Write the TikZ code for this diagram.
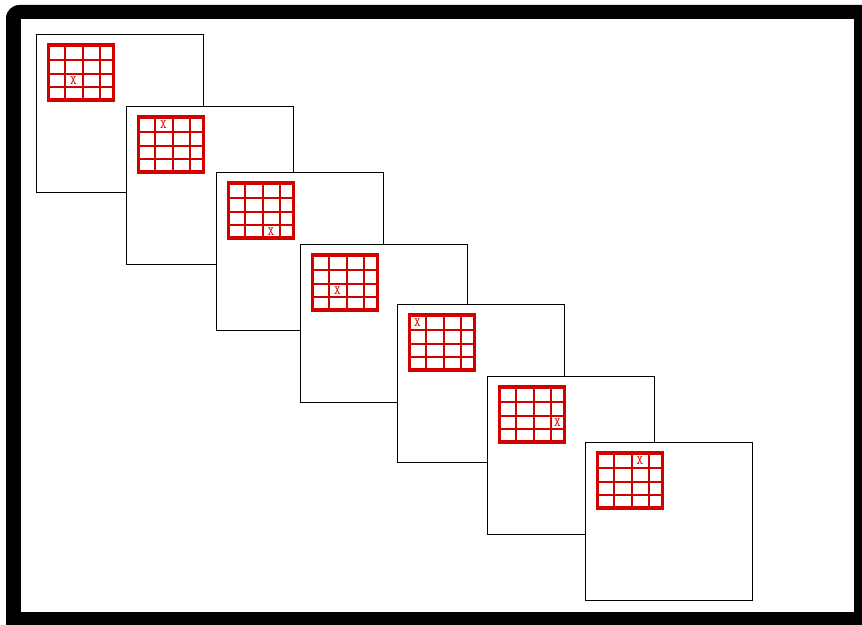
\documentclass[tikz,border=0pt]{standalone}
\definecolor{gridred}{RGB}{212,0,0}
\tikzset{
  panel/.style={draw=black, line width=1.05pt, fill=white, anchor=north west, inner sep=0pt,
    minimum width=125.25pt, minimum height=118.5pt},
  gridouter/.style={draw=gridred, line width=2.3pt},
  gridinner/.style={draw=gridred, line width=1.5pt},
  mark x/.style={text=gridred, font=\fontsize{9.5}{9.5}\selectfont\ttfamily, inner sep=0pt}
}
\begin{document}
\begin{tikzpicture}[x=0.75pt, y=-0.75pt]
\useasboundingbox (0,0) rectangle (862,624);
% frame
\fill[black, rounded corners=10pt] (6,5) rectangle (875,640);
\fill[white] (21,19) rectangle (854,612);
\foreach \bx/\by/\c/\r [count=\i] in {36/34/2/3, 126/106/2/1, 216/172/3/4, 300/244/2/3, 397/304/1/1, 487/376/4/3, 585/442/3/1}{
  \node[panel] (p\i) at (\bx,\by) {};
  \begin{scope}[shift={(\bx+12.5,\by+11)}]
    \foreach \gx in {16,34,51} \draw[gridinner] (\gx,0) -- (\gx,57);
    \foreach \gy in {15,29,42} \draw[gridinner] (0,\gy) -- (65,\gy);
    \draw[gridouter] (0,0) rectangle (65,55);
    \pgfmathsetmacro{\cx}{{8,25,42.5,58}[\c-1]}
    \pgfmathsetmacro{\cy}{{7.5,22,35.5,48.5}[\r-1]}
    \node[mark x] (x\i) at (\cx,\cy) {X};
  \end{scope}
}
\end{tikzpicture}
\end{document}
